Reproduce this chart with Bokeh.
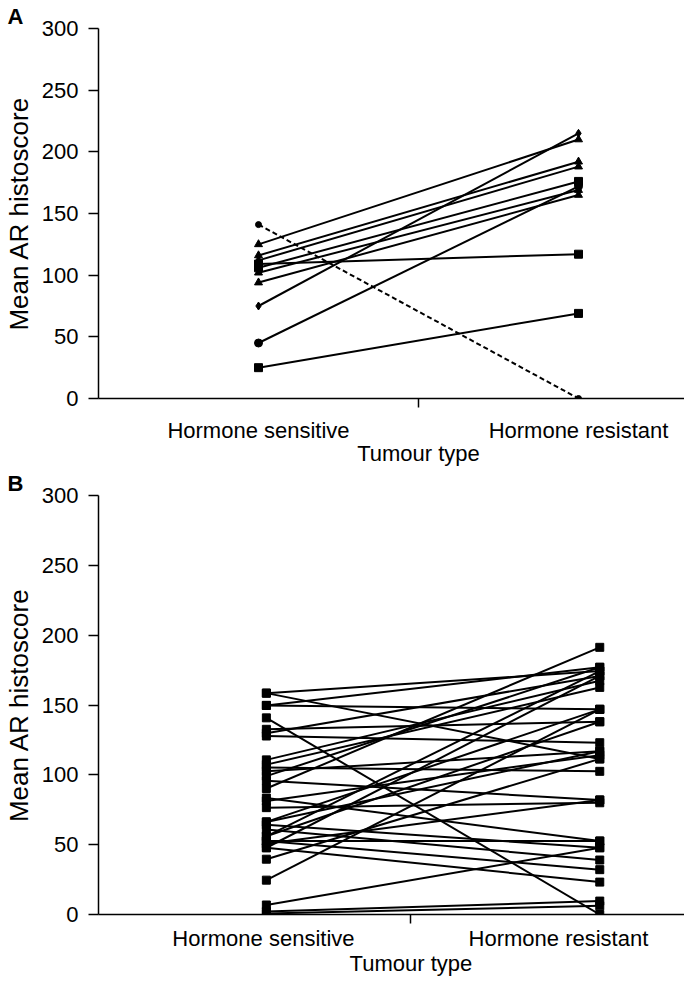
from bokeh.plotting import figure
from bokeh.layouts import column
from bokeh.models import FixedTicker, LinearAxis, Range1d, Title
from bokeh.embed import file_html
from bokeh.resources import INLINE

FONT = "Liberation Sans"

# ---------------- data ----------------
categories = ["Hormone sensitive", "Hormone resistant"]
axis_title = "Tumour type"
y_title = "Mean AR histoscore"
y_ticks = [0, 50, 100, 150, 200, 250, 300]

# Panel A (one entry per tumour pair)
a_sensitive = [125, 116, 112, 109, 106, 102, 94, 75, 45, 25]
a_resistant = [210, 192, 188, 117, 176, 169, 165, 215, 172, 69]
a_markers = ["triangle", "triangle", "triangle", "square", "square",
             "triangle", "triangle", "diamond", "circle", "square"]
a_dash_sensitive = [141]
a_dash_resistant = [0]

# Panel B
b_sensitive = [158.5, 158.5, 149.7, 149.7, 140.8, 132.6, 129.8, 127.8, 110.7, 107.3,
               105.2, 102.5, 99.1, 95.7, 90.2, 83.4, 81.3, 76.5, 66.3, 64.2,
               60.8, 56.0, 52.6, 50.6, 47.8, 39.6, 24.6, 6.8, 2.1, 0.7,
               47.8, 66.3, 56.0, 52.6]
b_resistant = [174.3, 111.4, 146.9, 177.0, 0.0, 138.0, 170.8, 123.0, 167.4, 162.6,
               102.5, 116.9, 177.0, 82.0, 191.3, 52.6, 114.1, 80.0, 146.9, 47.8,
               39.0, 138.0, 32.1, 82.0, 23.2, 111.4, 146.9, 47.8, 9.6, 6.2,
               170.8, 116.9, 174.3, 52.6]


def base_fig(letter, frame_h, top, bottom, x0, x1, xs_tick, mid,
             title_standoff, s1, s2):
    p = figure(frame_width=588, frame_height=frame_h,
               min_border_left=95, min_border_right=1,
               min_border_top=top, min_border_bottom=bottom,
               x_range=Range1d(x0, x1), y_range=Range1d(0, 300),
               output_backend="svg", toolbar_location=None,
               x_axis_type=None, title=None)
    p.outline_line_color = None
    p.grid.visible = False
    p.background_fill_color = "white"
    p.border_fill_color = "white"

    t = Title(text=letter, align="left", offset=-91, standoff=title_standoff,
              text_font=FONT, text_font_size="22px", text_font_style="bold",
              text_color="black")
    p.add_layout(t, "above")

    ya = p.yaxis[0]
    ya.ticker = FixedTicker(ticks=y_ticks)
    ya.major_tick_out = 10
    ya.major_tick_in = 0
    ya.minor_tick_line_color = None
    ya.axis_line_width = 1.5
    ya.major_tick_line_width = 1.5
    ya.axis_line_color = "black"
    ya.major_tick_line_color = "black"
    ya.major_label_text_font = FONT
    ya.major_label_text_font_size = "22px"
    ya.major_label_text_color = "black"
    ya.major_label_standoff = 10
    ya.axis_label = y_title
    ya.axis_label_text_font = FONT
    ya.axis_label_text_font_size = "26px"
    ya.axis_label_text_font_style = "normal"
    ya.axis_label_text_color = "black"
    ya.axis_label_standoff = 5

    xa = LinearAxis(ticker=FixedTicker(ticks=xs_tick, minor_ticks=[mid]))
    xa.major_label_overrides = {xs_tick[0]: categories[0], xs_tick[1]: categories[1]}
    xa.major_tick_out = 0
    xa.major_tick_in = 0
    xa.major_tick_line_color = None
    xa.minor_tick_out = 9
    xa.minor_tick_in = 0
    xa.minor_tick_line_width = 1.5
    xa.minor_tick_line_color = "black"
    xa.axis_line_width = 1.5
    xa.axis_line_color = "black"
    xa.major_label_text_font = FONT
    xa.major_label_text_font_size = "22px"
    xa.major_label_text_color = "black"
    xa.major_label_standoff = s1
    p.add_layout(xa, "below")

    xt = LinearAxis(ticker=FixedTicker(ticks=[mid], minor_ticks=[]))
    xt.major_label_overrides = {mid: axis_title}
    xt.axis_line_color = None
    xt.major_tick_line_color = None
    xt.minor_tick_line_color = None
    xt.major_label_text_font = FONT
    xt.major_label_text_font_size = "22px"
    xt.major_label_text_color = "black"
    xt.major_label_standoff = s2
    p.add_layout(xt, "below")
    return p


# ---------------- panel A ----------------
pa = base_fig("A", 370, 28, 40, 0.5, 2.3375, [1, 2], 1.5, 0, 10, -11)
XA = [1, 2]
pa.multi_line(xs=[XA for _ in a_sensitive],
              ys=[[s, r] for s, r in zip(a_sensitive, a_resistant)],
              line_color="black", line_width=2)
pa.multi_line(xs=[XA for _ in a_dash_sensitive],
              ys=[[s, r] for s, r in zip(a_dash_sensitive, a_dash_resistant)],
              line_color="black", line_width=2, line_dash="5 3")
pa.scatter([XA[0]] * len(a_sensitive), a_sensitive, marker=a_markers, size=8,
           color="black")
pa.scatter([XA[1]] * len(a_resistant), a_resistant, marker=a_markers, size=8,
           color="black")
pa.scatter([XA[0]] * len(a_dash_sensitive), a_dash_sensitive, marker="circle",
           size=6, color="black")
pa.scatter([XA[1]] * len(a_dash_resistant), a_dash_resistant, marker="circle",
           size=6, color="black")

# ---------------- panel B ----------------
pb = base_fig("B", 419, 0, 40, 0.441, 2.434, [1, 2], 1.5, 0, 2, -9)
XB = [1.01, 2.14]
pb.multi_line(xs=[XB for _ in b_sensitive],
              ys=[[s, r] for s, r in zip(b_sensitive, b_resistant)],
              line_color="black", line_width=2)
pb.scatter([XB[0]] * len(b_sensitive), b_sensitive, marker="square", size=8,
           color="black")
pb.scatter([XB[1]] * len(b_resistant), b_resistant, marker="square", size=8,
           color="black")

layout = column(pa, pb)
open("out.html", "w").write(file_html(layout, INLINE))
